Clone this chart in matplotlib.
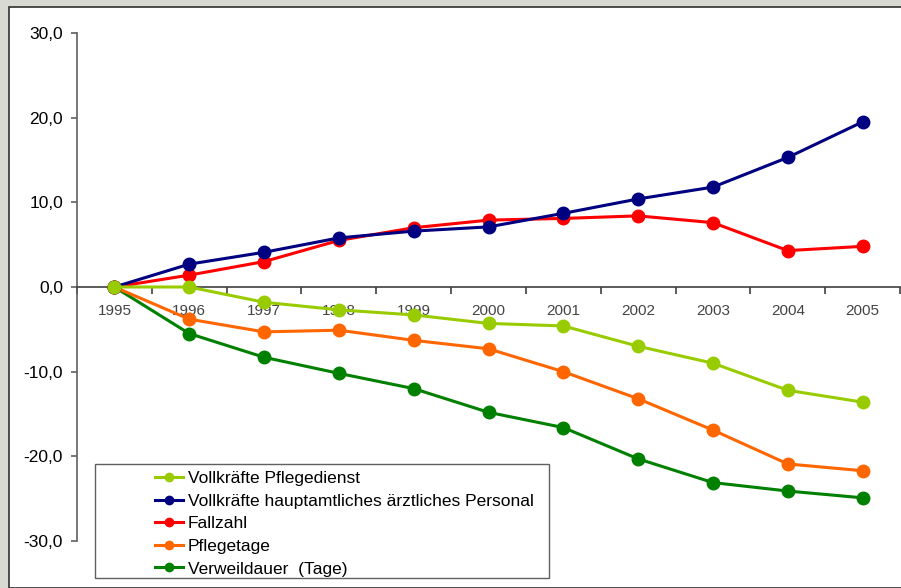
import matplotlib.pyplot as plt
from matplotlib.patches import Rectangle
from matplotlib.lines import Line2D

plt.rcParams['font.family'] = ['Liberation Sans', 'DejaVu Sans']

years = ['1995', '1996', '1997', '1998', '1999', '2000', '2001', '2002', '2003', '2004', '2005']
pflegedienst = [0, 0.0, -1.8, -2.7, -3.3, -4.3, -4.6, -7.0, -9.0, -12.2, -13.6]
aerzte = [0, 2.7, 4.1, 5.8, 6.6, 7.1, 8.7, 10.4, 11.8, 15.3, 19.5]
fallzahl = [0, 1.4, 3.0, 5.5, 7.0, 7.9, 8.1, 8.4, 7.6, 4.3, 4.8]
pflegetage = [0, -3.8, -5.3, -5.1, -6.3, -7.3, -10.0, -13.2, -16.9, -20.9, -21.7]
verweildauer = [0, -5.5, -8.3, -10.2, -12.0, -14.8, -16.6, -20.3, -23.1, -24.1, -24.9]

labels = ['Vollkräfte Pflegedienst',
          'Vollkräfte hauptamtliches ärztliches Personal',
          'Fallzahl',
          'Pflegetage',
          'Verweildauer  (Tage)']
colors = ['#99cc00', '#000080', '#ff0000', '#ff6600', '#008000']
series = [pflegedienst, aerzte, fallzahl, pflegetage, verweildauer]

W, H = 901, 588
fig = plt.figure(figsize=(W / 100, H / 100), dpi=100)
fig.patch.set_facecolor('#d9d9d4')
fig.patches.append(Rectangle((9 / W, 0), 1, 1 - 7 / H, transform=fig.transFigure,
                             facecolor='white', edgecolor='#303030', linewidth=1.2,
                             zorder=-10))

ax = fig.add_axes([77 / W, 1 - 541 / H, (900 - 77) / W, (541 - 33) / H])
ax.set_facecolor('none')

x = list(range(len(years)))
# draw in reverse so the upper series sit on top like the original
for s, c in list(zip(series, colors))[::-1]:
    ax.plot(x, s, color=c, linewidth=2.2, marker='o', markersize=9, zorder=3)

ax.set_xlim(-0.5, len(years) - 0.5)
ax.set_ylim(-30, 30)
ax.set_yticks([30, 20, 10, 0, -10, -20, -30])
ax.set_yticklabels(['30,0', '20,0', '10,0', '0,0', '-10,0', '-20,0', '-30,0'], fontsize=12.5)

for side in ['top', 'right']:
    ax.spines[side].set_visible(False)
ax.spines['bottom'].set_position(('data', 0))
ax.spines['left'].set_color('#606060')
ax.spines['bottom'].set_color('#404040')
ax.spines['left'].set_linewidth(1.2)
ax.spines['bottom'].set_linewidth(1.2)

ax.set_xticks(x)
ax.set_xticklabels(years, fontsize=11, color='#444444')
ax.tick_params(axis='x', which='major', length=0, pad=12)
ax.set_xticks([i - 0.5 for i in range(len(years) + 1)], minor=True)
ax.tick_params(axis='x', which='minor', length=5, direction='out', color='#404040', width=1.2)
ax.tick_params(axis='y', length=4, color='#606060', width=1.2, pad=6)

# legend box
fig.patches.append(Rectangle((95 / W, 1 - 578 / H), (549 - 95) / W, (578 - 464) / H,
                             transform=fig.transFigure, facecolor='white',
                             edgecolor='#606060', linewidth=1.0, zorder=5))
handles = [Line2D([], [], color=c, linewidth=2.2, marker='o', markersize=6) for c in colors]
leg = fig.legend(handles, labels, loc='upper left', bbox_to_anchor=(141 / W, 1 - 457 / H),
                 frameon=False, fontsize=12.5, handlelength=1.6, handletextpad=0.3,
                 labelspacing=0.43, borderpad=0.3)
leg.set_zorder(6)

fig.savefig('out.png', dpi=100, facecolor=fig.get_facecolor())
